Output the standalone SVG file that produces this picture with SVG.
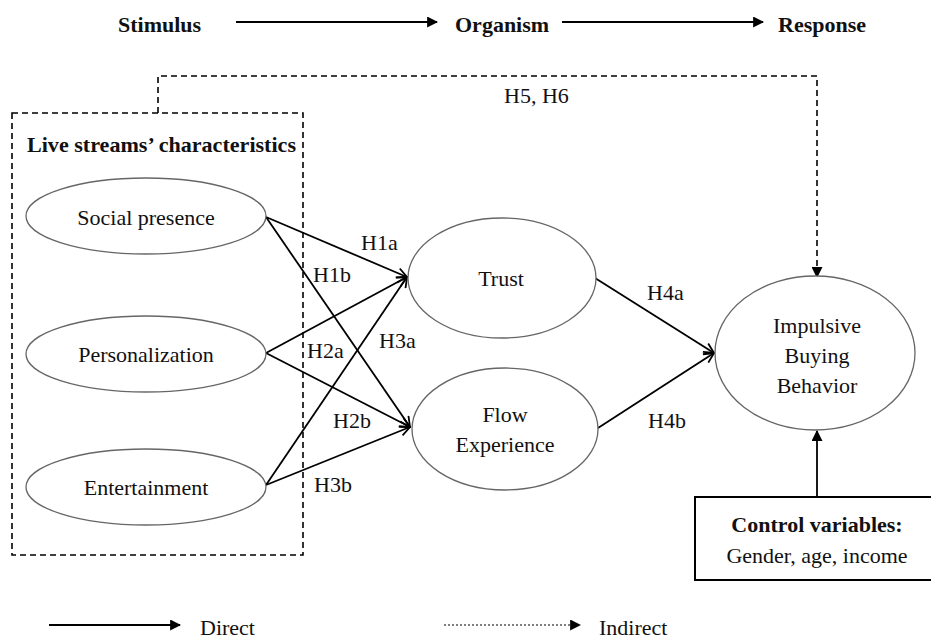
<svg xmlns="http://www.w3.org/2000/svg" width="931" height="642" viewBox="0 0 931 642">
<defs>
<marker id="open" viewBox="0 0 12 12" refX="11" refY="6" markerWidth="12" markerHeight="12" markerUnits="userSpaceOnUse" orient="auto">
<path d="M1,1 L11,6 L1,11" fill="none" stroke="#000" stroke-width="1.8"/>
</marker>
<marker id="solid" viewBox="0 0 10 10" refX="9" refY="5" markerWidth="11" markerHeight="11" markerUnits="userSpaceOnUse" orient="auto">
<path d="M0,0 L10,5 L0,10 Z" fill="#000"/>
</marker>
</defs>
<style>
.ell{fill:#fff;stroke:#666;stroke-width:1.3}
.ln{stroke:#000;stroke-width:1.8;fill:none}
.dash{stroke:#000;stroke-width:1.6;fill:none;stroke-dasharray:6,4}
</style>
<rect width="931" height="642" fill="#fff"/>

<g id="header" font-size="22" fill="#111" font-weight="bold">
<text style="font-family:'Liberation Serif',serif" x="118" y="32">Stimulus</text>
<text style="font-family:'Liberation Serif',serif" x="455" y="32">Organism</text>
<text style="font-family:'Liberation Serif',serif" x="778" y="32">Response</text>
</g>

<g id="connectors">
<line class="ln" x1="236" y1="22" x2="437" y2="22" marker-end="url(#solid)"/>
<line class="ln" x1="562" y1="22" x2="763" y2="22" marker-end="url(#solid)"/>
<path class="dash" d="M158,113 V76 H817 V277" marker-end="url(#solid)"/>
<line class="ln" x1="266" y1="217" x2="407" y2="277" marker-end="url(#open)"/>
<line class="ln" x1="266" y1="217" x2="410" y2="427" marker-end="url(#open)"/>
<line class="ln" x1="266" y1="353" x2="407" y2="277" marker-end="url(#open)"/>
<line class="ln" x1="266" y1="353" x2="410" y2="427" marker-end="url(#open)"/>
<line class="ln" x1="266" y1="485" x2="407" y2="277" marker-end="url(#open)"/>
<line class="ln" x1="266" y1="485" x2="410" y2="427" marker-end="url(#open)"/>
<line class="ln" x1="595" y1="278" x2="714" y2="353" marker-end="url(#open)"/>
<line class="ln" x1="598" y1="428" x2="714" y2="353" marker-end="url(#open)"/>
<line class="ln" x1="817" y1="497" x2="817" y2="431" marker-end="url(#solid)"/>
</g>

<g id="labels" font-size="22" fill="#111">
<text style="font-family:'Liberation Serif',serif" x="504" y="103">H5, H6</text>
<text style="font-family:'Liberation Serif',serif" x="361" y="250">H1a</text>
<text style="font-family:'Liberation Serif',serif" x="313" y="282">H1b</text>
<text style="font-family:'Liberation Serif',serif" x="307" y="358">H2a</text>
<text style="font-family:'Liberation Serif',serif" x="379" y="348">H3a</text>
<text style="font-family:'Liberation Serif',serif" x="333" y="428">H2b</text>
<text style="font-family:'Liberation Serif',serif" x="314" y="492">H3b</text>
<text style="font-family:'Liberation Serif',serif" x="647" y="300">H4a</text>
<text style="font-family:'Liberation Serif',serif" x="648" y="428">H4b</text>
</g>

<g id="stimulus-group" font-size="22" fill="#111">
<rect class="dash" x="12" y="113" width="291" height="442"/>
<text style="font-family:'Liberation Serif',serif" font-weight="bold" x="27" y="152" textLength="269" lengthAdjust="spacingAndGlyphs">Live streams’ characteristics</text>
</g>

<g id="social-presence" font-size="22" fill="#111" text-anchor="middle">
<ellipse class="ell" cx="146" cy="216" rx="120" ry="38"/>
<text style="font-family:'Liberation Serif',serif" x="146" y="225">Social presence</text>
</g>
<g id="personalization" font-size="22" fill="#111" text-anchor="middle">
<ellipse class="ell" cx="146" cy="354" rx="120" ry="38"/>
<text style="font-family:'Liberation Serif',serif" x="146" y="362">Personalization</text>
</g>
<g id="entertainment" font-size="22" fill="#111" text-anchor="middle">
<ellipse class="ell" cx="146" cy="487" rx="120" ry="38"/>
<text style="font-family:'Liberation Serif',serif" x="146" y="495">Entertainment</text>
</g>
<g id="trust" font-size="22" fill="#111" text-anchor="middle">
<ellipse class="ell" cx="502" cy="278" rx="94" ry="60"/>
<text style="font-family:'Liberation Serif',serif" x="501" y="286">Trust</text>
</g>
<g id="flow" font-size="22" fill="#111" text-anchor="middle">
<ellipse class="ell" cx="505" cy="429" rx="93" ry="61"/>
<text style="font-family:'Liberation Serif',serif" x="505" y="422">Flow</text>
<text style="font-family:'Liberation Serif',serif" x="505" y="452">Experience</text>
</g>
<g id="impulsive" font-size="22" fill="#111" text-anchor="middle">
<ellipse class="ell" cx="815" cy="353" rx="100" ry="77"/>
<text style="font-family:'Liberation Serif',serif" x="817" y="333">Impulsive</text>
<text style="font-family:'Liberation Serif',serif" x="817" y="363">Buying</text>
<text style="font-family:'Liberation Serif',serif" x="817" y="393">Behavior</text>
</g>
<g id="control" font-size="22" fill="#111" text-anchor="middle">
<rect x="695" y="497" width="245" height="83" fill="#fff" stroke="#000" stroke-width="2"/>
<text style="font-family:'Liberation Serif',serif" font-weight="bold" x="817" y="532">Control variables:</text>
<text style="font-family:'Liberation Serif',serif" x="817" y="563">Gender, age, income</text>
</g>

<g id="legend" font-size="22" fill="#111">
<line class="ln" x1="49" y1="625" x2="180" y2="625" marker-end="url(#solid)"/>
<text style="font-family:'Liberation Serif',serif" x="200" y="635">Direct</text>
<line x1="444" y1="625" x2="580" y2="625" stroke="#000" stroke-width="1.2" stroke-dasharray="2,2" marker-end="url(#solid)"/>
<text style="font-family:'Liberation Serif',serif" x="599" y="635">Indirect</text>
</g>
</svg>
